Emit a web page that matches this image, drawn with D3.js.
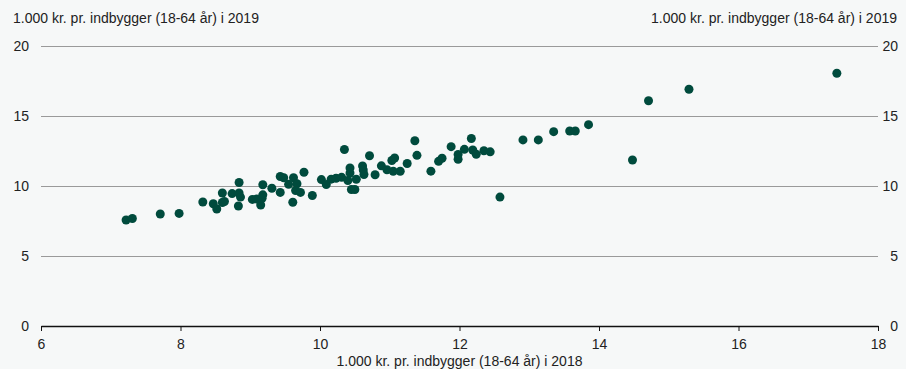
<!DOCTYPE html>
<html>
<head>
<meta charset="utf-8">
<script src="https://cdn.jsdelivr.net/npm/d3@7"></script>
<style>
  body { margin: 0; background: #f6f8f8; }
  svg { display: block; font-family: "Liberation Sans", Arial, sans-serif; }
</style>
</head>
<body>
<div id="chart"></div>
<script>
// Data: spending per inhabitant (18-64 yrs), 1.000 kr., 2018 vs 2019
const x2018 = [7.22, 7.31, 7.71, 7.98, 8.32, 8.47, 8.52, 8.60, 8.60, 8.63, 8.74, 8.84, 8.84, 8.86, 8.83,
  9.03, 9.09, 9.15, 9.18, 9.18, 9.17, 9.31, 9.43, 9.43, 9.48, 9.55, 9.62, 9.67, 9.65, 9.72, 9.61, 9.77,
  9.89, 10.02, 10.09, 10.16, 10.23, 10.31, 10.35, 10.43, 10.43, 10.40, 10.45, 10.50, 10.52, 10.61, 10.62,
  10.63, 10.71, 10.79, 10.88, 10.96, 11.03, 11.07, 11.05, 11.15, 11.25, 11.36, 11.39, 11.59, 11.70, 11.75,
  11.88, 11.98, 11.98, 12.07, 12.17, 12.19, 12.24, 12.35, 12.44, 12.58, 12.91, 13.13, 13.35, 13.58, 13.66,
  13.85, 14.48, 14.71, 15.29, 17.41];
const y2019 = [7.57, 7.68, 8.00, 8.04, 8.86, 8.73, 8.36, 9.50, 8.82, 8.89, 9.46, 10.25, 9.50, 9.21, 8.57,
  9.04, 9.07, 8.64, 10.09, 9.37, 9.12, 9.84, 9.54, 10.68, 10.59, 10.12, 10.59, 10.16, 9.68, 9.54, 8.84, 10.98,
  9.32, 10.46, 10.11, 10.49, 10.55, 10.62, 12.61, 11.29, 10.93, 10.39, 9.75, 9.75, 10.48, 11.43, 11.14,
  10.82, 12.16, 10.80, 11.44, 11.16, 11.82, 12.00, 11.05, 11.05, 11.61, 13.23, 12.19, 11.06, 11.76, 11.98,
  12.81, 12.25, 11.91, 12.62, 13.39, 12.57, 12.27, 12.52, 12.44, 9.21, 13.29, 13.29, 13.88, 13.93, 13.93,
  14.38, 11.86, 16.09, 16.91, 18.05];
const xTicks = [6, 8, 10, 12, 14, 16, 18];
const yTicks = [0, 5, 10, 15, 20];
const yTitle = "1.000 kr. pr. indbygger (18-64 år) i 2019";
const xTitle = "1.000 kr. pr. indbygger (18-64 år) i 2018";

const width = 906, height = 369;
const margin = { top: 46, right: 28, bottom: 43, left: 41 };
const fontSize = 14;

const svg = d3.select("#chart").append("svg")
  .attr("width", width)
  .attr("height", height);

svg.append("rect").attr("width", width).attr("height", height).attr("fill", "#f6f8f8");

const x = d3.scaleLinear().domain([6, 18]).range([margin.left, width - margin.right]);
const y = d3.scaleLinear().domain([0, 20]).range([height - margin.bottom, margin.top]);

// gridlines
svg.append("g")
  .selectAll("line")
  .data(yTicks.filter(d => d > 0))
  .join("line")
    .attr("x1", x(6)).attr("x2", x(18))
    .attr("y1", d => y(d) + 0.5).attr("y2", d => y(d) + 0.5)
    .attr("stroke", "#9a9a9a").attr("stroke-width", 1);

// y labels both sides
svg.append("g").selectAll("text")
  .data(yTicks)
  .join("text")
    .attr("x", 29).attr("y", d => y(d)).attr("dy", "0.35em")
    .attr("text-anchor", "end")
    .attr("font-size", fontSize).attr("fill", "#222")
    .text(d => d);
svg.append("g").selectAll("text")
  .data(yTicks)
  .join("text")
    .attr("x", 898).attr("y", d => y(d)).attr("dy", "0.35em")
    .attr("text-anchor", "end")
    .attr("font-size", fontSize).attr("fill", "#222")
    .text(d => d);

// x axis
const xAxis = svg.append("g")
  .attr("transform", `translate(0,${y(0)})`)
  .call(d3.axisBottom(x).tickValues(xTicks).tickSize(5).tickSizeOuter(0).tickFormat(d3.format("d")));
xAxis.select(".domain").attr("stroke", "#111").attr("stroke-width", 1.5);
xAxis.selectAll(".tick line").attr("stroke", "#111");
xAxis.selectAll("text").attr("font-size", fontSize).attr("fill", "#222")
  .attr("font-family", "Liberation Sans, Arial, sans-serif").attr("y", 10).attr("dy", "0.9em");

// titles
svg.append("text").attr("x", 13).attr("y", 23)
  .attr("font-size", fontSize).attr("fill", "#222").text(yTitle);
svg.append("text").attr("x", 897).attr("y", 23).attr("text-anchor", "end")
  .attr("font-size", fontSize).attr("fill", "#222").text(yTitle);
svg.append("text").attr("x", (x(6) + x(18)) / 2).attr("y", 366).attr("text-anchor", "middle")
  .attr("font-size", fontSize).attr("fill", "#222").text(xTitle);

// dots
svg.append("g").selectAll("circle")
  .data(x2018.map((v, i) => ({ x: v, y: y2019[i] })))
  .join("circle")
    .attr("cx", d => x(d.x))
    .attr("cy", d => y(d.y))
    .attr("r", 4.5)
    .attr("fill", "#004b3d");
</script>
</body>
</html>
